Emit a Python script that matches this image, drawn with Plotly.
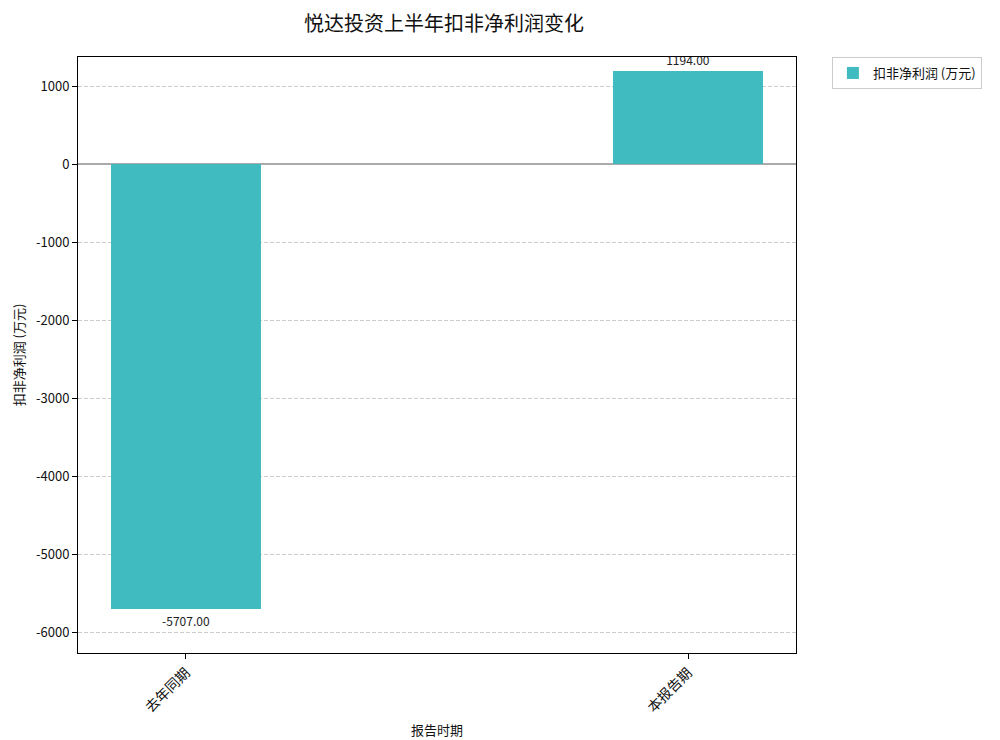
import plotly.graph_objects as go

# data
periods = ["去年同期", "本报告期"]
profit = [-5707.00, 1194.00]
labels = [f"{v:.2f}" for v in profit]
y_ticks = [1000, 0, -1000, -2000, -3000, -4000, -5000, -6000]
y_tick_text = [str(v) for v in y_ticks]

font_family = "Noto Sans CJK SC, DejaVu Sans, sans-serif"
bar_color = "#40BBBF"

fig = go.Figure()
fig.add_trace(
    go.Bar(
        x=periods,
        y=profit,
        width=0.3,
        marker_color=bar_color,
        marker_line_width=0,
        text=labels,
        textposition="outside",
        textfont=dict(size=12, color="#222222"),
        cliponaxis=False,
        name="扣非净利润 (万元)",
        showlegend=True,
    )
)

# page has an 8px body margin, so margins are shifted by that
fig.update_layout(
    width=1000,
    height=740,
    font=dict(family=font_family, size=13, color="#111111"),
    paper_bgcolor="white",
    plot_bgcolor="white",
    title=dict(
        text="悦达投资上半年扣非净利润变化",
        x=0.436,
        xanchor="center",
        y=0.979,
        yanchor="middle",
        font=dict(size=20, color="#111111"),
    ),
    margin=dict(l=70, r=212, t=49, b=95),
    bargap=0,
    legend=dict(
        x=1.05,
        y=1.0,
        xanchor="left",
        yanchor="top",
        bordercolor="#cccccc",
        borderwidth=1,
        font=dict(size=13),
    ),
    xaxis=dict(
        range=[-0.215, 1.215],
        showline=True,
        mirror=True,
        linecolor="black",
        linewidth=1,
        ticks="outside",
        ticklen=5,
        tickcolor="black",
        tickangle=-45,
        tickfont=dict(size=14),
        showgrid=False,
        title=dict(text="报告时期", font=dict(size=13), standoff=10),
    ),
    yaxis=dict(
        range=[-6269, 1372],
        tickvals=y_ticks,
        ticktext=y_tick_text,
        showline=True,
        mirror=True,
        linecolor="black",
        linewidth=1,
        ticks="outside",
        ticklen=5,
        tickcolor="black",
        showgrid=True,
        gridcolor="#cccccc",
        griddash="4px,2px",
        gridwidth=1,
        zeroline=True,
        zerolinecolor="#aaaaaa",
        zerolinewidth=1.5,
        title=dict(text="扣非净利润 (万元)", font=dict(size=13), standoff=8),
    ),
)

fig.write_html("out.html")
